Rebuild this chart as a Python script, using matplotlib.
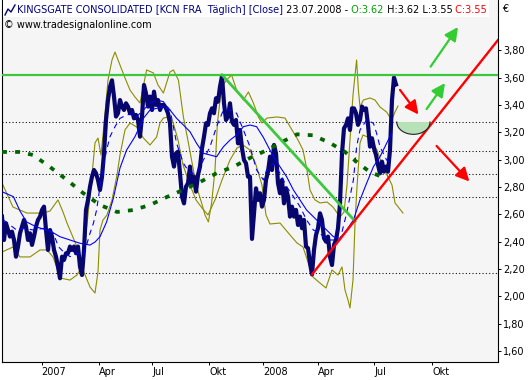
import numpy as np
import matplotlib
matplotlib.use("Agg")
import matplotlib.pyplot as plt
from matplotlib.lines import Line2D
from matplotlib.patches import Polygon, Rectangle

# x unit = one bar (about 3.3 calendar days), bar 0 = end of Oct 2006
price = [
    2.583, 2.412, 2.534, 2.485, 2.437, 2.473, 2.412, 2.290, 2.364, 2.461,
    2.510, 2.559, 2.510, 2.412, 2.461, 2.376, 2.437, 2.510, 2.559, 2.583,
    2.632, 2.656, 2.485, 2.339, 2.485, 2.437, 2.339, 2.290, 2.217, 2.132,
    2.290, 2.266, 2.315, 2.315, 2.364, 2.339, 2.364, 2.315, 2.364, 2.217,
    2.156, 2.339, 2.632, 2.705, 2.802, 2.875, 2.924, 2.900, 2.851, 2.778,
    2.875, 3.046, 3.290, 3.436, 3.534, 3.580, 3.461, 3.315, 3.339, 3.436,
    3.388, 3.363, 3.412, 3.388, 3.339, 3.363, 3.302,
    3.327, 3.290, 3.168, 3.315, 3.546, 3.485, 3.388, 3.461, 3.363, 3.497,
    3.400, 3.436, 3.363, 3.400, 3.400, 3.375, 3.339, 3.266, 3.022, 2.949,
    3.046, 3.058, 2.900, 2.729, 2.680, 2.802, 2.827, 2.949, 2.815, 2.875,
    2.766, 2.888, 2.949, 3.083, 3.168, 3.266, 3.254, 3.339, 3.375, 3.339,
    3.449, 3.424, 3.534, 3.610, 3.412, 3.290, 3.315, 3.412, 3.278, 3.254,
    3.290, 3.119, 3.217, 3.083, 2.997, 2.973, 2.875, 2.875, 2.420, 2.607,
    2.790, 2.705, 2.754, 2.656,
    2.705, 2.851, 2.912, 3.022, 2.924, 3.107, 3.046, 2.827, 2.754, 2.851,
    2.680, 2.790, 2.729, 2.583, 2.656, 2.583, 2.632, 2.522, 2.583, 2.498,
    2.559, 2.364, 2.352, 2.242, 2.160, 2.339, 2.449, 2.498, 2.607, 2.559,
    2.425, 2.400, 2.437, 2.290, 2.229, 2.376, 2.412, 2.498, 2.680, 3.046,
    3.229, 3.254, 3.302, 3.217, 3.375, 3.375, 3.339, 3.254, 3.290, 3.388,
    3.363, 3.375, 3.254, 3.095, 3.156, 3.083, 3.034, 2.961, 2.900, 2.985,
    2.912, 2.949, 2.912, 3.071, 3.436, 3.600, 3.550,
]

ma_long_x = [0, 5.7, 9, 12.3, 17.3, 24, 29, 34, 39, 44, 46.5, 49, 52.3, 55.7, 59,
             62.3, 66.5, 70.7, 74, 77.3, 80.7, 84, 87.3, 90.7, 94, 97.3, 100.7,
             104, 107.3, 110.7, 114, 117.3, 120.7, 124, 127.3, 130.7, 135.7, 139,
             142.3, 145.7, 149, 152.3, 155.7, 159, 162.3, 165.7, 169, 172.3,
             175.7, 179, 182.3, 185.7, 189, 192.3, 194.8]
ma_long = [2.765, 2.729, 2.624, 2.544, 2.507, 2.478, 2.436, 2.412, 2.388, 2.375,
           2.397, 2.436, 2.544, 2.719, 2.939, 3.070, 3.168, 3.302, 3.363, 3.375,
           3.387, 3.363, 3.302, 3.253, 3.204, 3.119, 3.046, 3.034, 3.021, 3.094,
           3.143, 3.180, 3.241, 3.253, 3.241, 3.162, 3.021, 2.948, 2.875, 2.778,
           2.705, 2.631, 2.582, 2.534, 2.485, 2.436, 2.424, 2.485, 2.558, 2.705,
           2.827, 2.948, 3.021, 3.119, 3.193]

ma_short_x = [0.7, 4, 7.3, 10.7, 15.7, 20.7, 25.7, 28.2, 30.7, 34, 37.3, 40.7,
              42.3, 44, 45.7, 47.3, 49, 50.7, 52.3, 54, 56.5, 59, 62.3, 65.7,
              67.3, 70.7, 74, 77.3, 80.7, 84, 85.7, 87.3, 90.7, 94, 97.3, 100.7,
              104, 107.3, 110.7, 114, 117.3, 120.7, 124, 127.3, 130.7, 132.3,
              135.7, 139, 142.3, 145.7, 149, 152.3, 155.7, 159, 162.3, 165.7, 169,
              172.3, 175.7, 177.3, 179, 182.3, 185.7, 187.3, 189, 192.3, 194.8]
ma_short = [2.558, 2.522, 2.485, 2.497, 2.485, 2.497, 2.461, 2.363, 2.326, 2.290,
            2.315, 2.302, 2.375, 2.461, 2.534, 2.631, 2.802, 2.948, 3.070, 3.168,
            3.241, 3.302, 3.326, 3.339, 3.314, 3.363, 3.412, 3.436, 3.424, 3.363,
            3.241, 3.119, 2.973, 2.900, 2.900, 2.997, 3.094, 3.241, 3.363, 3.363,
            3.339, 3.217, 3.094, 2.924, 2.851, 2.924, 2.973, 2.900, 2.802, 2.729,
            2.656, 2.558, 2.485, 2.461, 2.412, 2.412, 2.412, 2.607, 2.851, 3.094,
            3.217, 3.290, 3.266, 3.193, 3.094, 2.997, 2.973]

band1_x = [0, 5.5, 9, 14, 19, 22.5, 25.5, 27.5, 29, 34, 37.5, 39, 41, 43, 45, 46.5,
           48, 49.5, 51, 53, 55, 56.5, 59, 61.5, 64, 66.5, 69, 72.3, 75.7, 78,
           80.7, 84, 85.7, 88.2, 90.7, 93.2, 95.7, 97.3, 99.8, 101.5, 103.2,
           104.8, 106.5, 107.7, 109.8, 112.3, 114.8, 117.3, 120.7, 123.2, 125.7,
           128.2, 130, 132.5, 137.5, 141.5, 145, 148, 150.5, 152.5, 154, 156.5,
           159, 162.5, 165.5, 169, 171, 172.5, 174, 175.5, 177.3, 178.2, 179,
           180.7, 184, 186.5, 189, 192.3, 194.8, 196.5, 198]
band1 = [2.324, 2.361, 2.288, 2.288, 2.339, 2.339, 2.288, 2.207, 2.134, 2.119,
         2.156, 2.193, 2.339, 2.595, 2.887, 3.122, 3.158, 3.034, 3.253, 3.582,
         3.729, 3.787, 3.692, 3.597, 3.509, 3.458, 3.414, 3.656, 3.634, 3.546,
         3.487, 3.641, 3.656, 3.582, 3.312, 3.122, 2.924, 2.800, 2.683, 2.595,
         2.544, 2.683, 2.924, 3.268, 3.531, 3.582, 3.619, 3.509, 3.436, 3.495,
         3.414, 3.312, 3.268, 3.304, 3.312, 3.304, 3.217, 3.144, 3.070, 2.924,
         2.778, 2.705, 2.683, 2.690, 2.653, 2.580, 2.617, 2.814, 3.144, 3.473,
         3.729, 3.509, 3.385, 3.436, 3.451, 3.436, 3.385, 3.348, 3.290, 3.348,
         3.392]

band2_x = [0, 5.5, 12.5, 20.5, 24, 28, 30.5, 32.5, 35, 37.5, 40.5, 44, 46.5, 48,
           49, 50.5, 52.5, 55, 57.5, 59, 61.5, 64, 67.3, 70.7, 74, 77.3, 79, 80.7,
           83.2, 85.5, 88, 90.5, 94, 97, 100, 103, 106.5, 110, 114, 117.5, 120.5,
           124, 127, 130, 132, 134, 139, 144, 147.5, 150.5, 153, 155.5, 159, 162,
           165, 168, 170, 171.5, 173, 174, 175.5, 176.5, 177.5, 179, 180.5, 184,
           187.5, 190.5, 193, 195, 196.5, 198.5, 200.5]
band2 = [2.829, 2.653, 2.609, 2.609, 2.624, 2.705, 2.617, 2.536, 2.449, 2.361,
         2.193, 2.068, 2.024, 2.178, 2.485, 2.558, 2.595, 2.705, 2.887, 3.034,
         3.217, 3.268, 3.239, 3.158, 3.107, 3.165, 3.268, 3.304, 3.312, 3.275,
         3.144, 2.961, 2.814, 2.705, 2.646, 2.595, 2.705, 2.851, 2.997, 3.085,
         3.107, 3.070, 2.961, 2.814, 2.595, 2.529, 2.536, 2.449, 2.390, 2.361,
         2.251, 2.141, 2.097, 2.061, 2.193, 2.156, 2.215, 2.046, 1.973, 1.915,
         2.119, 2.536, 2.800, 3.122, 3.180, 3.158, 3.070, 2.946, 2.873, 2.814,
         2.683, 2.646, 2.609]

cycle_x = [0, 9, 15.5, 24, 32.5, 40.5, 49, 57.5, 65.5, 74, 82.5, 90.5, 99, 107.5,
           115.5, 124, 132.5, 139, 147.5, 155.5, 164, 171.5, 178, 184, 189, 193]
cycle = [3.056, 3.056, 3.034, 2.946, 2.851, 2.756, 2.668, 2.617, 2.631, 2.668,
         2.727, 2.778, 2.836, 2.902, 2.946, 3.012, 3.070, 3.122, 3.185, 3.178,
         3.122, 3.056, 2.975, 2.909, 2.880, 2.888]

# drawn analysis
resistance = 3.62
fib_high, fib_low = 3.62, 2.17
fib_ratios = [0.236, 0.382, 0.5, 0.618, 1.0]
down_x, down_y = [110, 176.5], [3.62, 2.55]
up_x, up_y = [155, 248], [2.16, 3.875]
red_arrows = [((199, 3.51), (208.2, 3.33)), ((217.3, 3.10), (233.7, 2.84))]
green_arrows = [((212.3, 3.37), (221.5, 3.56)), ((214.3, 3.68), (228, 3.97))]
bowl_cx, bowl_cy, bowl_w, bowl_h = 205.7, 3.275, 8.3, 0.09

month_pos = [19.85, 48.5, 75.15, 103.65, 130.65, 158.15, 186.15, 215.15]
month_lbl = ['2007', 'Apr', 'Jul', 'Okt', '2008', 'Apr', 'Jul', 'Okt']
yticks = np.arange(1.6, 3.81, 0.2)

W, H = 531, 380
fig = plt.figure(figsize=(W / 100, H / 100), dpi=100)
ax = fig.add_axes([2 / W, (H - 362) / H, 496 / W, 362 / H])
ax.set_facecolor('#F5F5F5')
ax.set_xlim(0, 248)
ax.set_ylim(1.5195, 4.1676)

for r in fib_ratios:
    ax.axhline(fib_high - r * (fib_high - fib_low), color='black', lw=0.75,
               ls=(0, (1, 2.2)), zorder=1)

ax.plot(band1_x, band1, color='#8C8C00', lw=0.8, zorder=2)
ax.plot(band2_x, band2, color='#8C8C00', lw=0.8, zorder=2)
ax.plot(np.arange(len(price)), price, color='#06066E', lw=3.0, zorder=3)
ax.plot(ma_long_x, ma_long, color='#0000FF', lw=0.8, zorder=4)
ax.plot(ma_short_x, ma_short, color='#0000FF', lw=0.8, ls=(0, (5, 4)), zorder=4)
ax.plot(cycle_x, cycle, color='#006400', lw=2.7, ls=(0, (1.3, 2.2)),
        dash_capstyle='butt', zorder=5)

ax.axhline(resistance, color='#3CC83C', lw=1.6, zorder=6)
ax.plot(down_x, down_y, color='#3CC83C', lw=2.0, zorder=6)
ax.plot(up_x, up_y, color='#FF0000', lw=1.7, zorder=6)

t = np.linspace(np.pi, 2 * np.pi, 40)
bx = bowl_cx + bowl_w * np.cos(t)
by = bowl_cy + bowl_h * np.sin(t)
ax.add_patch(Polygon(np.column_stack([bx, by]), closed=True,
                     facecolor='#B7E2B7', edgecolor='none', zorder=6))
ax.plot(bx, by, color='#222222', lw=0.8, zorder=6)

for arrows, c in ((red_arrows, '#FF0000'), (green_arrows, '#33CC33')):
    for (x0, y0), (x1, y1) in arrows:
        ax.annotate('', xy=(x1, y1), xytext=(x0, y0), zorder=7,
                    arrowprops=dict(arrowstyle='-|>,head_length=0.8,head_width=0.4',
                                    color=c, lw=1.6, shrinkA=0, shrinkB=0,
                                    mutation_scale=10))

ax.spines['top'].set_visible(False)
for s in ('left', 'right', 'bottom'):
    ax.spines[s].set_linewidth(0.8)
ax.yaxis.tick_right()
ax.set_yticks(yticks, [f'{v:.2f}'.replace('.', ',') for v in yticks])
ax.set_xticks(month_pos, month_lbl)
for lbl in ax.get_xticklabels():
    lbl.set_ha('left')
ax.tick_params(axis='both', direction='out', length=2.5, width=0.7,
               labelsize=7, pad=1)

# header
fig.add_artist(Rectangle((3 / W, 1 - 17 / H), 486 / W, 17 / H,
                         transform=fig.transFigure, facecolor='white',
                         edgecolor='none', zorder=3))
fig.add_artist(Line2D(np.array([5, 8, 11, 15]) / W,
                      1 - np.array([15, 9, 12, 5]) / H,
                      transform=fig.transFigure, color='#000080', lw=1, zorder=4))
pieces = [('KINGSGATE CONSOLIDATED [KCN FRA  Täglich] [Close]', '#000080'),
          (' 23.07.2008 -', 'black'), (' O:3.62', '#00A000'),
          (' H:3.62 L:3.55', 'black'), (' C:3.55', '#FF0000')]

renderer = fig.canvas.get_renderer()
size = 8.0
probe = fig.text(0, 0, ''.join(p for p, _ in pieces), fontsize=size)
full_w = probe.get_window_extent(renderer=renderer).width
probe.remove()
size = size * 469 / full_w
x = 17
for s, c in pieces:
    tx = fig.text(x / W, 1 - 10 / H, s, color=c, fontsize=size, va='center',
                  ha='left', zorder=5)
    x += tx.get_window_extent(renderer=renderer).width
fig.text(4 / W, 1 - 25 / H, '\u00a9 www.tradesignalonline.com', fontsize=size,
         va='center', ha='left', color='black')
fig.text(502 / W, 1 - 9 / H, '\u20ac', fontsize=7, va='center', ha='left')

fig.savefig('out.png', dpi=100)
